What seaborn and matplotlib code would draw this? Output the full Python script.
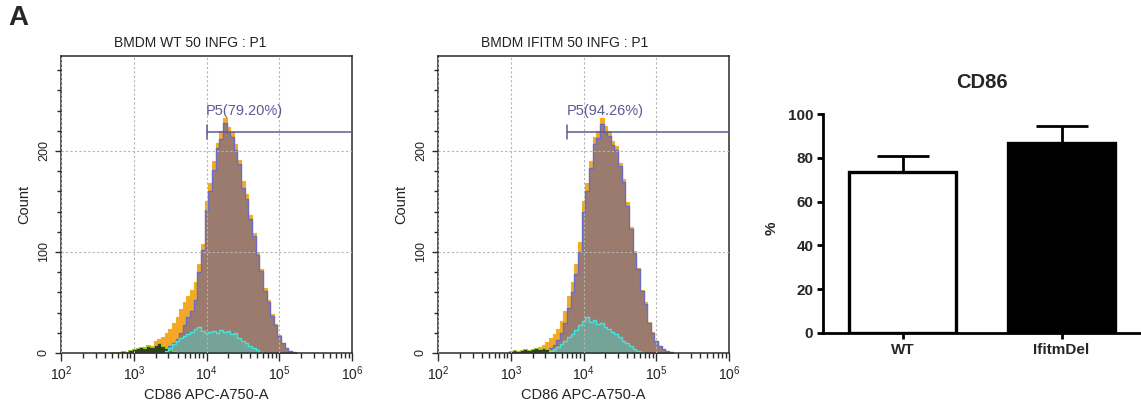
import numpy as np
import pandas as pd
import matplotlib
matplotlib.use("Agg")
import matplotlib.pyplot as plt
import seaborn as sns
from matplotlib.ticker import FixedLocator, MultipleLocator, NullFormatter

sns.set_theme(style="white")
plt.rcParams['font.family'] = ['Liberation Sans', 'DejaVu Sans']
plt.rcParams['mathtext.fontset'] = 'custom'
plt.rcParams['mathtext.rm'] = 'Liberation Sans'

# ---------------- data ----------------
BIN_W = 0.05  # bin width in decades (log10 units)

wt_title = "BMDM WT 50 INFG : P1"
ko_title = "BMDM IFITM 50 INFG : P1"
x_label = "CD86 APC-A750-A"
y_label = "Count"

wt_gate_label = "P5(79.20%)"
wt_gate_start = 4.00
ko_gate_label = "P5(94.26%)"
ko_gate_start = 3.78
gate_level = 219

# WT panel (log10 of first bin centre, then counts per bin)
wt_orange_start = 2.85
wt_orange = [1, 1, 2, 3, 4, 5, 6, 8, 7, 12, 14, 16, 20, 24, 30, 36, 44, 50, 56, 62,
             70, 88, 108, 150, 168, 190, 208, 220, 233, 224, 219, 207, 191, 170, 157,
             137, 119, 100, 83, 64, 52, 39, 29, 18, 10, 5, 2]
wt_main_start = 3.45
wt_main = [4, 7, 10, 14, 20, 28, 36, 42, 52, 80, 102, 142, 160, 181, 203, 212, 228, 218,
           214, 201, 187, 163, 152, 133, 116, 97, 81, 61, 50, 37, 28, 17, 10, 5, 2, 1]
wt_cyan_start = 3.45
wt_cyan = [2, 5, 9, 12, 15, 17, 19, 21, 24, 26, 22, 20, 21, 22, 20, 23, 21, 22, 19, 20,
           15, 12, 10, 7, 5, 3, 1]
wt_green_start = 2.70
wt_green = [1, 1, 1, 2, 1, 3, 4, 5, 6, 5, 7, 6, 8, 10, 7, 5, 3, 2]

# IFITM panel
ko_orange_start = 3.00
ko_orange = [1, 1, 2, 2, 3, 3, 4, 5, 6, 8, 11, 15, 19, 24, 32, 42, 56, 70, 88, 110,
             150, 168, 190, 214, 220, 233, 225, 220, 210, 205, 188, 172, 149, 125, 101,
             84, 62, 50, 31, 21, 12, 7, 4]
ko_main_start = 3.50
ko_main = [3, 5, 8, 13, 20, 30, 45, 60, 78, 100, 140, 160, 183, 207, 213, 227, 218, 215,
           206, 201, 185, 169, 146, 123, 99, 83, 61, 49, 30, 20, 12, 7, 4, 2, 1]
ko_cyan_start = 3.55
ko_cyan = [2, 4, 6, 9, 12, 16, 19, 23, 28, 32, 36, 31, 33, 29, 30, 26, 24, 21, 19, 16,
           12, 10, 7, 4, 2, 1]
ko_green_start = 3.00
ko_green = [2, 3, 2, 3, 4, 3, 4, 5, 4, 5, 4, 3, 2]

# bar chart
bar_title = "CD86"
bar_groups = ["WT", "IfitmDel"]
bar_means = [73.7, 86.9]
bar_errs = [7.0, 7.5]
bar_ylabel = "%"

# ---------------- styling ----------------
C_ORANGE = "#f3a82a"
C_BROWN = "#9b7b6e"
C_PURPLE = "#6c6cc0"
C_CYAN_EDGE = "#40e6dc"
C_CYAN_FACE = (0.25, 0.88, 0.85, 0.40)
C_GREEN_FACE = "#2c4418"
C_GREEN_EDGE = "#9cc21e"
C_GATE = "#5b5b96"
C_SPINE = "#2a2a2a"

W, H = 1141, 407
fig = plt.figure(figsize=(W / 100, H / 100), dpi=100)


def frac(l, t, r, b):
    return [l / W, 1 - b / H, (r - l) / W, (b - t) / H]


def draw_hist(ax, start, counts, **kw):
    counts = np.asarray(counts, float)
    centers = start + BIN_W * np.arange(len(counts))
    df = pd.DataFrame({"logx": centers, "n": counts})
    lo = centers[0] - BIN_W / 2
    hi = centers[-1] + BIN_W / 2
    sns.histplot(data=df, x="logx", weights="n", binwidth=BIN_W,
                 binrange=(lo, hi), element="step", fill=True, ax=ax, **kw)


def flow_panel(rect, title, title_x, series, gate_start, gate_label):
    ax = fig.add_axes(rect)
    (o_s, o), (m_s, m), (g_s, g), (c_s, c) = series
    draw_hist(ax, o_s, o, facecolor=C_ORANGE, edgecolor="#f2b01e", linewidth=0.8, alpha=1)
    draw_hist(ax, m_s, m, facecolor=C_BROWN, edgecolor=C_PURPLE, linewidth=1.0, alpha=1)
    draw_hist(ax, g_s, g, facecolor=C_GREEN_FACE, edgecolor=C_GREEN_EDGE, linewidth=0.7, alpha=1)
    draw_hist(ax, c_s, c, facecolor=C_CYAN_FACE, edgecolor=C_CYAN_EDGE, linewidth=1.0)

    ax.set_xlim(2, 6)
    ax.set_ylim(0, 294)
    ax.set_facecolor("white")
    for sp in ax.spines.values():
        sp.set_visible(True)
        sp.set_color(C_SPINE)
        sp.set_linewidth(1.1)

    ax.xaxis.set_major_locator(FixedLocator([2, 3, 4, 5, 6]))
    ax.set_xticklabels([r"$10^{%d}$" % k for k in [2, 3, 4, 5, 6]])
    minors = [n + np.log10(k) for n in range(2, 6) for k in range(2, 10)]
    ax.xaxis.set_minor_locator(FixedLocator(minors))
    ax.yaxis.set_major_locator(FixedLocator([0, 100, 200]))
    ax.yaxis.set_minor_locator(MultipleLocator(20))
    ax.yaxis.set_minor_formatter(NullFormatter())
    ax.tick_params(axis="both", which="both", direction="out", color=C_SPINE,
                   bottom=True, left=True, top=False, right=False)
    ax.tick_params(axis="x", which="major", length=6, width=1, labelsize=10,
                   pad=2, labelcolor="#222222")
    ax.tick_params(axis="x", which="minor", length=3.5, width=1)
    ax.tick_params(axis="y", which="major", length=4, width=1, labelsize=9,
                   pad=4, labelcolor="#222222")
    ax.tick_params(axis="y", which="minor", length=3, width=1)
    for lab in ax.get_yticklabels():
        lab.set_rotation(90)
        lab.set_va("center")

    ax.grid(True, which="major", axis="both", color="#b4b4b4",
            linestyle=(0, (2, 2)), linewidth=0.8)
    ax.set_axisbelow(False)
    for gl in ax.get_xgridlines() + ax.get_ygridlines():
        gl.set_zorder(0.5)

    ax.set_xlabel(x_label, fontsize=10.5, color="#222222", labelpad=4)
    ax.set_ylabel(y_label, fontsize=10.5, color="#222222", labelpad=5)
    ax.text(title_x, 1.044, title, transform=ax.transAxes, ha="center",
            va="center", fontsize=10, color="#222222")

    # gate
    ax.plot([gate_start, 6], [gate_level, gate_level], color=C_GATE, lw=1.1,
            clip_on=False, zorder=5)
    ax.plot([gate_start, gate_start], [gate_level - 7, gate_level + 7],
            color=C_GATE, lw=1.1, zorder=5)
    ax.text(gate_start - 0.01, gate_level + 14, gate_label, color=C_GATE,
            fontsize=10.5, ha="left", va="bottom", zorder=6)
    return ax


ax1 = flow_panel(frac(61, 56, 352, 353), wt_title, 0.443,
                 [(wt_orange_start, wt_orange), (wt_main_start, wt_main),
                  (wt_green_start, wt_green), (wt_cyan_start, wt_cyan)],
                 wt_gate_start, wt_gate_label)
ax2 = flow_panel(frac(438, 56, 729, 353), ko_title, 0.436,
                 [(ko_orange_start, ko_orange), (ko_main_start, ko_main),
                  (ko_green_start, ko_green), (ko_cyan_start, ko_cyan)],
                 ko_gate_start, ko_gate_label)

# ---------------- bar chart ----------------
axb = fig.add_axes(frac(823, 114, 1141, 333))
bar_df = pd.DataFrame({"group": bar_groups, "pct": bar_means})
sns.barplot(data=bar_df, x="group", y="pct", hue="group",
            palette=["white", "black"], edgecolor="black", linewidth=2.4,
            width=0.67, legend=False, ax=axb)
axb.errorbar(x=np.arange(len(bar_groups)), y=bar_means,
             yerr=[np.zeros(len(bar_errs)), bar_errs], fmt="none",
             ecolor="black", elinewidth=2, capsize=19, capthick=2, zorder=1)
axb.set_xlim(-0.5, 1.5)
axb.set_ylim(0, 100)
axb.set_facecolor("white")
axb.spines["top"].set_visible(False)
axb.spines["right"].set_visible(False)
for s in ["left", "bottom"]:
    axb.spines[s].set_linewidth(2)
    axb.spines[s].set_color("black")
axb.yaxis.set_major_locator(MultipleLocator(20))
axb.tick_params(axis="both", direction="out", length=4, width=2, color="black",
                bottom=True, left=True, labelsize=11, pad=3)
for lab in axb.get_xticklabels() + axb.get_yticklabels():
    lab.set_fontweight("bold")
axb.set_xlabel("")
axb.set_ylabel(bar_ylabel, fontsize=11, fontweight="bold")
axb.yaxis.set_label_coords(-0.14, 0.48)
axb.text(0.5, 1.146, bar_title, transform=axb.transAxes, ha="center",
         va="center", fontsize=14.5, fontweight="bold")

fig.text(8 / W, 1 - 18 / H, "A", fontsize=20, fontweight="bold", ha="left",
         va="center")

fig.savefig("out.png", dpi=100, facecolor="white")
